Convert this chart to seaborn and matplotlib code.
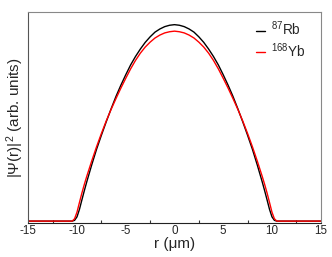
import pandas as pd
import seaborn as sns
import matplotlib

matplotlib.use("Agg")
import matplotlib.pyplot as plt

# radial coordinate (um) and density profiles
r_um = [-15, -12.5, -10.5, -10.25, -10, -9.75, -9.5, -9.25, -9, -8.5, -8, -7.5,
        -7, -6.5, -6, -5.5, -5, -4.5, -4, -3.5, -3, -2.5, -2, -1.5, -1, -0.5,
        0,
        0.5, 1, 1.5, 2, 2.5, 3, 3.5, 4, 4.5, 5, 5.5, 6, 6.5, 7, 7.5, 8, 8.5,
        9, 9.25, 9.5, 9.75, 10, 10.25, 10.5, 12.5, 15]

rb87 = [0, 0, 0, 0.004, 0.022, 0.060, 0.108, 0.155, 0.200, 0.285, 0.365, 0.437,
        0.506, 0.572, 0.635, 0.692, 0.745, 0.795, 0.838, 0.876, 0.910, 0.938,
        0.962, 0.978, 0.990, 0.997,
        1.000,
        0.997, 0.990, 0.978, 0.962, 0.938, 0.910, 0.876, 0.838, 0.795, 0.745,
        0.692, 0.635, 0.572, 0.506, 0.437, 0.365, 0.285, 0.200, 0.155, 0.108,
        0.060, 0.022, 0.004, 0, 0, 0]

yb168 = [0, 0, 0, 0.012, 0.046, 0.095, 0.143, 0.187, 0.228, 0.305, 0.378, 0.446,
         0.510, 0.569, 0.624, 0.677, 0.727, 0.775, 0.818, 0.855, 0.886, 0.911,
         0.932, 0.947, 0.958, 0.964,
         0.967,
         0.964, 0.958, 0.947, 0.932, 0.911, 0.886, 0.855, 0.818, 0.775, 0.727,
         0.677, 0.624, 0.569, 0.510, 0.446, 0.378, 0.305, 0.228, 0.187, 0.143,
         0.095, 0.046, 0.012, 0, 0, 0]

species = [r"$^{87}$Rb", r"$^{168}$Yb"]
colors = {species[0]: "black", species[1]: "red"}

x_ticks = [-15, -10, -5, 0, 5, 10, 15]
x_minor = [-12.5, -7.5, -2.5, 2.5, 7.5, 12.5]

df = pd.concat([
    pd.DataFrame({"r": r_um, "dens": rb87, "species": species[0]}),
    pd.DataFrame({"r": r_um, "dens": yb168, "species": species[1]}),
])

sns.set_style("white")
plt.rcParams["font.family"] = ["Liberation Sans", "DejaVu Sans"]
plt.rcParams["mathtext.fontset"] = "custom"
plt.rcParams["mathtext.rm"] = "Liberation Sans"
plt.rcParams["mathtext.it"] = "Liberation Sans"
plt.rcParams["axes.unicode_minus"] = False

fig = plt.figure(figsize=(3.32, 2.57), dpi=100)
ax = fig.add_axes([0.0852, 0.1335, 0.8807, 0.8187])

sns.lineplot(data=df, x="r", y="dens", hue="species", palette=colors,
             sort=False, estimator=None, linewidth=1.0, ax=ax)

ax.set_xlim(-15, 15)
ax.set_ylim(-0.008, 1.063)
ax.set_xticks(x_ticks)
ax.set_xticks(x_minor, minor=True)
ax.set_xticklabels([str(t) for t in x_ticks])
ax.set_yticks([])
ax.tick_params(axis="x", which="major", direction="in", length=4, width=0.8,
               color="#333333", labelsize=8.4, pad=1.5)
ax.tick_params(axis="x", which="minor", direction="in", length=2.5, width=0.8,
               color="#333333", bottom=True)

ax.set_xlabel("r (\u03bcm)", fontsize=11, labelpad=0)
ax.set_ylabel("|\u03a8(r)|$^2$ (arb. units)", fontsize=11, labelpad=2)

for side, col in [("top", "#888888"), ("right", "#888888"),
                  ("left", "#555555"), ("bottom", "#222222")]:
    ax.spines[side].set_color(col)
    ax.spines[side].set_linewidth(0.8)

ax.legend(frameon=False, loc="upper right", bbox_to_anchor=(0.975, 1.0),
          fontsize=9.8, handlelength=0.7, handletextpad=0.45,
          labelspacing=0.2, borderaxespad=0.15, title=None)

fig.savefig("out.png", dpi=100)
